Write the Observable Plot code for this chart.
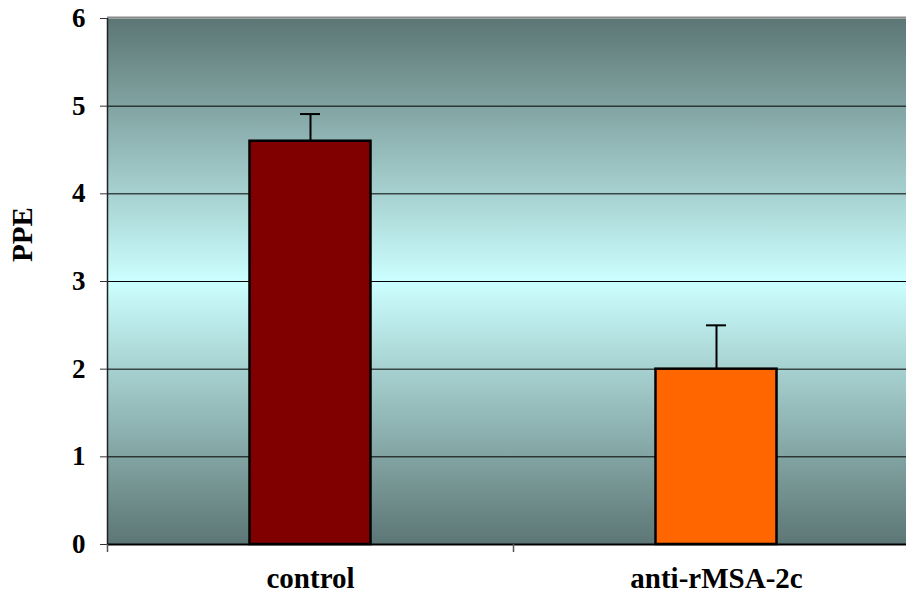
<!DOCTYPE html>
<html>
<head>
<meta charset="utf-8">
<script src="https://cdn.jsdelivr.net/npm/d3@7"></script>
<script src="https://cdn.jsdelivr.net/npm/@observablehq/plot@0.6"></script>
<style>
  html, body { margin: 0; padding: 0; background: #fff; }
  #chart svg { display: block; }
  #chart svg, #chart svg text { font-family: "Liberation Serif", "Times New Roman", serif !important; }
</style>
</head>
<body>
<svg width="0" height="0" style="position:absolute">
  <defs>
    <linearGradient id="bg" x1="0" y1="0" x2="0" y2="1">
      <stop offset="0%" stop-color="#5c7674"/>
      <stop offset="50%" stop-color="#ccffff"/>
      <stop offset="100%" stop-color="#5c7674"/>
    </linearGradient>
  </defs>
</svg>
<div id="chart"></div>
<script>
const categories = ["control", "anti-rMSA-2c"];
const values = [4.6, 2.0];
const errors = [0.31, 0.5];
const colors = ["#800000", "#ff6600"];
const yTicks = [0, 1, 2, 3, 4, 5, 6];
const gridTicks = [1, 2, 3, 4, 5];

const data = categories.map((c, i) => ({
  name: c, i: i, i2: i + 1, mid: i + 0.5,
  value: values[i], hi: values[i] + errors[i], color: colors[i]
}));

const chart = Plot.plot({
  width: 906,
  height: 597,
  marginLeft: 107,
  marginRight: 0,
  marginTop: 18,
  marginBottom: 53,
  style: "font-family: 'Liberation Serif', serif; color: black; background: white;",
  x: {domain: [0, categories.length], range: [107, 919]},
  y: {domain: [0, 6]},
  marks: [
    Plot.frame({fill: "url(#bg)", stroke: "none"}),
    Plot.ruleY(gridTicks, {stroke: "black", strokeWidth: 1}),
    Plot.ruleY([6], {stroke: "#8a8a8a", strokeWidth: 2, dy: -1}),
    Plot.rectY(data, {x1: "i", x2: "i2", y: "value", fill: "color", stroke: "black", strokeWidth: 2.5, insetLeft: 142.5, insetRight: 142.5}),
    Plot.ruleX(data, {x: "mid", y1: "value", y2: "hi", stroke: "black", strokeWidth: 2}),
    Plot.ruleY(data, {y: "hi", x1: "i", x2: "i2", insetLeft: 193, insetRight: 193, stroke: "black", strokeWidth: 2}),
    Plot.ruleX([0], {stroke: "#222", strokeWidth: 1.5}),
    Plot.ruleY([0], {stroke: "black", strokeWidth: 2}),
    Plot.axisY(yTicks, {tickSize: 7, tickPadding: 15, tickFormat: d => String(d), fontSize: 27, fontWeight: "bold", label: null, stroke: "#333"}),
    Plot.axisX([0, 1, 2], {tickSize: 8, tickFormat: () => "", label: null, stroke: "#555", strokeWidth: 1.5}),
    Plot.axisX(data.map(d => d.mid), {tickSize: 0, tickPadding: 23, tickFormat: (d) => categories[Math.floor(d)], fontSize: 29, fontWeight: "bold", label: null, style: {letterSpacing: "2px"}}),
    Plot.text(["PPE"], {frameAnchor: "left", textAnchor: "middle", dx: -85, dy: -47, rotate: -90, fontSize: 29, fontWeight: "bold", fill: "black"})
  ]
});
chart.setAttribute("font-family", "Liberation Serif, serif");
document.getElementById("chart").append(chart);
</script>
</body>
</html>
